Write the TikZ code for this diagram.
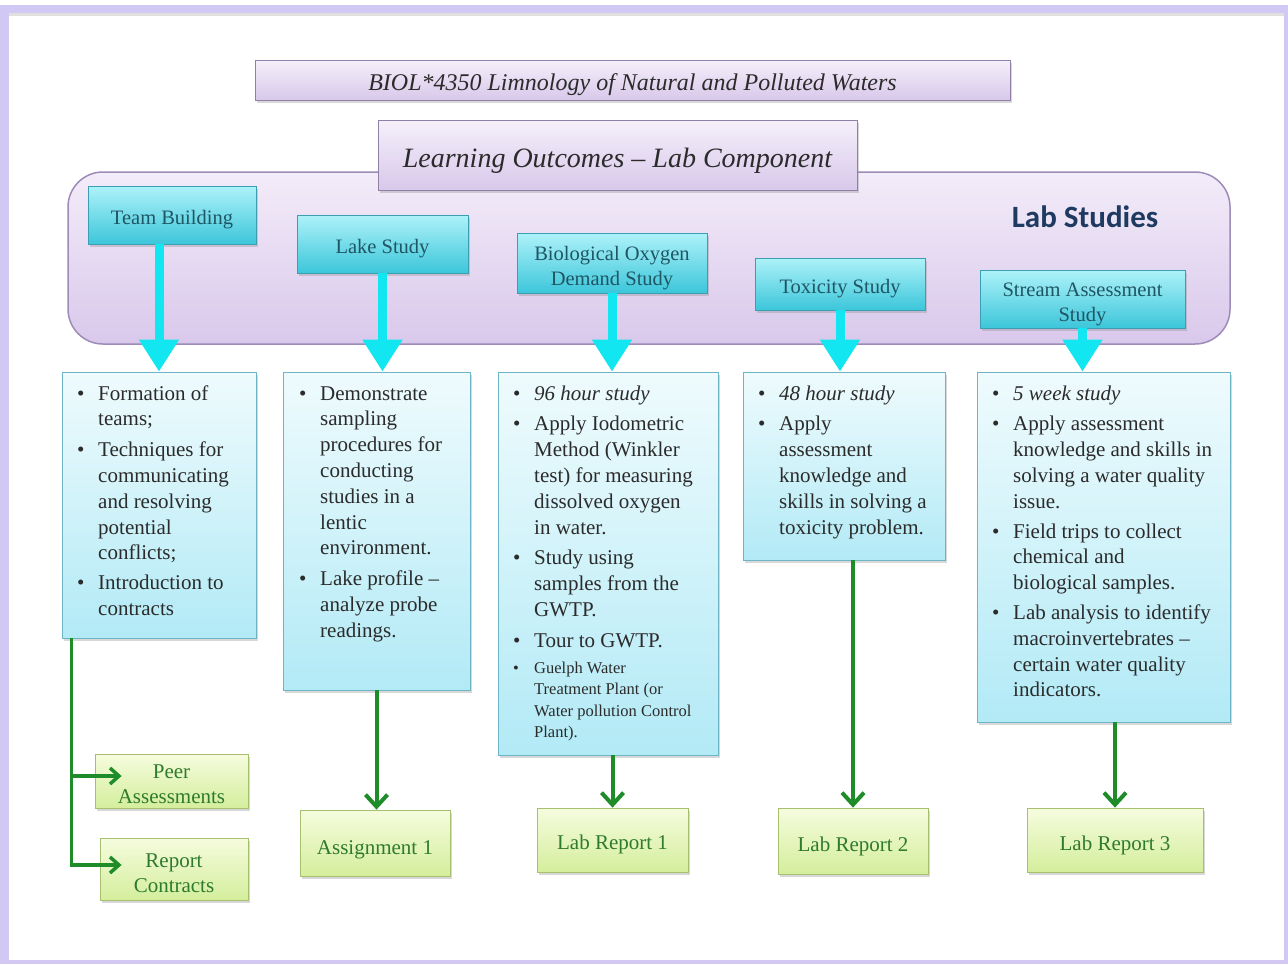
\documentclass[tikz,border=0pt]{standalone}
\usepackage{fontspec}
\setmainfont{Liberation Serif}
\newfontfamily\labfont{Carlito}
\usetikzlibrary{arrows.meta,shadows,calc}
\definecolor{framelav}{HTML}{D2C8F4}
\definecolor{lavtop}{HTML}{F5F0FB}
\definecolor{lavbot}{HTML}{D8C8EA}
\definecolor{lavborder}{HTML}{8F80A8}
\definecolor{labtop}{HTML}{F3ECF9}
\definecolor{labbot}{HTML}{D9C8EB}
\definecolor{labborder}{HTML}{9D8CB8}
\definecolor{cyantop}{HTML}{AEF2F9}
\definecolor{cyanbot}{HTML}{3CC6DA}
\definecolor{cyanborder}{HTML}{3A9FB3}
\definecolor{cyantext}{HTML}{1F5664}
\definecolor{conttop}{HTML}{EFFBFD}
\definecolor{contbot}{HTML}{B2EAF6}
\definecolor{contborder}{HTML}{6CB4C6}
\definecolor{gtop}{HTML}{F6FCDE}
\definecolor{gbot}{HTML}{D4EE9C}
\definecolor{gborder}{HTML}{A6C070}
\definecolor{gtext}{HTML}{2E7A2E}
\definecolor{arrowcyan}{HTML}{12E6F0}
\definecolor{arrowgreen}{HTML}{1E8C28}
\definecolor{navy}{HTML}{1F3A60}
\definecolor{textdark}{HTML}{2B2B2B}
\newcommand\fsbody{\fontsize{21}{25.8}\selectfont}
\newcommand\fsbox{\fontsize{20.5}{25}\selectfont}
\newcommand\fssmall{\fontsize{16.5}{21.5}\selectfont}
\newcommand\bl{\textbullet}
\tikzset{
  shad/.style={drop shadow={shadow xshift=2pt,shadow yshift=-3pt,opacity=0.3}},
  lavbox/.style={draw=lavborder,line width=1pt,top color=lavtop,bottom color=lavbot,text=textdark,inner sep=0pt,shad},
  labbox/.style={draw=labborder,line width=1.5pt,top color=labtop,bottom color=labbot,rounded corners=35pt,inner sep=0pt},
  cyanbox/.style={draw=cyanborder,line width=0.8pt,top color=cyantop,bottom color=cyanbot,text=cyantext,font=\fsbox,align=center,inner sep=0pt,shad},
  contbox/.style={draw=contborder,line width=0.8pt,top color=conttop,bottom color=contbot,inner sep=0pt,shad},
  gbox/.style={draw=gborder,line width=0.8pt,top color=gtop,bottom color=gbot,text=gtext,font=\fsbody,align=center,inner sep=0pt,shad},
  bullets/.style={anchor=base west,inner sep=0pt,text=textdark,font=\fsbody},
  carrow/.style={draw=arrowcyan,line width=9pt,-{Triangle[width=38pt,length=32pt]}},
  garrow/.style={draw=arrowgreen,line width=4pt,-{Straight Barb[width=22pt,length=12pt,line width=4pt]}},
  gsmall/.style={draw=arrowgreen,line width=3.5pt,-{Straight Barb[width=16pt,length=9pt,line width=3.5pt]}},
}
\begin{document}
\begin{tikzpicture}[x=1pt,y=-1pt]
\useasboundingbox (0,0) rectangle (1288,964);
\fill[white] (0,0) rectangle (1288,964);
\fill[framelav] (0,5) rectangle (1288,964);
\fill[white] (9,13) rectangle (1284,960);
\fill[black!12] (9,13) rectangle (1284,16);

% container
\node[labbox,minimum width=1162pt,minimum height=172pt] (lab) at (649,258) {};
\node[text=navy,font=\labfont\bfseries\fontsize{31}{34}\selectfont] (labt) at (1085,217) {Lab Studies};

% titles
\node[lavbox,minimum width=755pt,minimum height=40pt,text height=27pt,font=\itshape\fontsize{24}{28}\selectfont] (title) at (632.5,80) {BIOL*4350 Limnology of Natural and Polluted Waters};
\node[lavbox,minimum width=479pt,minimum height=70pt,text height=30pt,font=\itshape\fontsize{28}{32}\selectfont] (lo) at (617.5,155) {Learning Outcomes -- Lab Component};

% study boxes
\node[cyanbox,minimum width=168pt,minimum height=58pt,text height=24pt] (tb) at (172,215) {Team Building};
\node[cyanbox,minimum width=171pt,minimum height=58pt,text height=24pt] (lk) at (382.5,244) {Lake Study};
\node[cyanbox,minimum width=190pt,minimum height=60pt,text height=50pt] (bod) at (612,263) {Biological Oxygen\\Demand Study};
\node[cyanbox,minimum width=170pt,minimum height=52pt,text height=24pt] (tox) at (840,284) {Toxicity Study};
\node[cyanbox,minimum width=205pt,minimum height=58pt,text height=50pt] (str) at (1082.5,299) {Stream Assessment\\Study};

% content boxes
\node[contbox,minimum width=194pt,minimum height=266pt] (c1) at (159,505) {};
\node[contbox,minimum width=187pt,minimum height=318pt] (c2) at (376.5,531) {};
\node[contbox,minimum width=220pt,minimum height=383pt] (c3) at (608,563.5) {};
\node[contbox,minimum width=202pt,minimum height=188pt] (c4) at (844,466) {};
\node[contbox,minimum width=253pt,minimum height=350pt] (c5) at (1103.5,547) {};

\node[bullets] (t1) at (77,400) {\begin{tabular}[t]{@{}p{21pt}@{}l@{}}
\bl & Formation of\\
 & teams;\\[5pt]
\bl & Techniques for\\
 & communicating\\
 & and resolving\\
 & potential\\
 & conflicts;\\[4pt]
\bl & Introduction to\\
 & contracts
\end{tabular}};

\node[bullets] (t2) at (299,400) {\begin{tabular}[t]{@{}p{21pt}@{}l@{}}
\bl & Demonstrate\\
 & sampling\\
 & procedures for\\
 & conducting\\
 & studies in a\\
 & lentic\\
 & environment.\\[5pt]
\bl & Lake profile --\\
 & analyze probe\\
 & readings.
\end{tabular}};

\node[bullets] (t3) at (513,400) {\begin{tabular}[t]{@{}p{21pt}@{}l@{}}
\bl & \textit{96 hour study}\\[5pt]
\bl & Apply Iodometric\\
 & Method (Winkler\\
 & test) for measuring\\
 & dissolved oxygen\\
 & in water.\\[5pt]
\bl & Study using\\
 & samples from the\\
 & GWTP.\\[5pt]
\bl & Tour to GWTP.
\end{tabular}};
\node[bullets,font=\fssmall] (t3s) at (513,673) {\begin{tabular}[t]{@{}p{21pt}@{}l@{}}
\bl & Guelph Water\\
 & Treatment Plant (or\\
 & Water pollution Control\\
 & Plant).
\end{tabular}};

\node[bullets] (t4) at (758,400) {\begin{tabular}[t]{@{}p{21pt}@{}l@{}}
\bl & \textit{48 hour study}\\[5pt]
\bl & Apply\\
 & assessment\\
 & knowledge and\\
 & skills in solving a\\
 & toxicity problem.
\end{tabular}};

\node[bullets] (t5) at (992,400) {\begin{tabular}[t]{@{}p{21pt}@{}l@{}}
\bl & \textit{5 week study}\\[5pt]
\bl & Apply assessment\\
 & knowledge and skills in\\
 & solving a water quality\\
 & issue.\\[4pt]
\bl & Field trips to collect\\
 & chemical and\\
 & biological samples.\\[4pt]
\bl & Lab analysis to identify\\
 & macroinvertebrates --\\
 & certain water quality\\
 & indicators.
\end{tabular}};

% assessment boxes
\node[gbox,minimum width=153pt,minimum height=54pt,text height=46pt] (peer) at (171.5,781) {Peer\\Assessments};
\node[gbox,minimum width=148pt,minimum height=62pt,text height=48pt] (rep) at (174,869) {Report\\Contracts};
\node[gbox,minimum width=150pt,minimum height=66pt,text height=27pt] (a1) at (375,843) {Assignment 1};
\node[gbox,minimum width=151pt,minimum height=64pt,text height=24pt] (lr1) at (612.5,840) {Lab Report 1};
\node[gbox,minimum width=150pt,minimum height=66pt,text height=26pt] (lr2) at (853,841) {Lab Report 2};
\node[gbox,minimum width=176pt,minimum height=64pt,text height=25pt] (lr3) at (1115,840) {Lab Report 3};

% cyan arrows
\draw[carrow] (c1.north |- tb.south) -- (c1.north);
\draw[carrow] (lk.south) -- (lk.south |- c2.north);
\draw[carrow] (bod.south) -- (bod.south |- c3.north);
\draw[carrow] (tox.south) -- (tox.south |- c4.north);
\draw[carrow] (str.south) -- (str.south |- c5.north);

% green arrows
\coordinate (tl) at ($(c1.south west)+(10,0)$);
\draw[gsmall] (tl) |- ([shift={(22,-4)}]rep.west);
\draw[gsmall] (tl |- 0,776) -- ([shift={(27,-5)}]peer.west);
\draw[garrow] (c2.south) -- (c2.south |- a1.north);
\draw[garrow] (lr1.north |- c3.south) -- (lr1.north);
\draw[garrow] (lr2.north |- c4.south) -- (lr2.north);
\draw[garrow] (lr3.north |- c5.south) -- (lr3.north);
\end{tikzpicture}
\end{document}
